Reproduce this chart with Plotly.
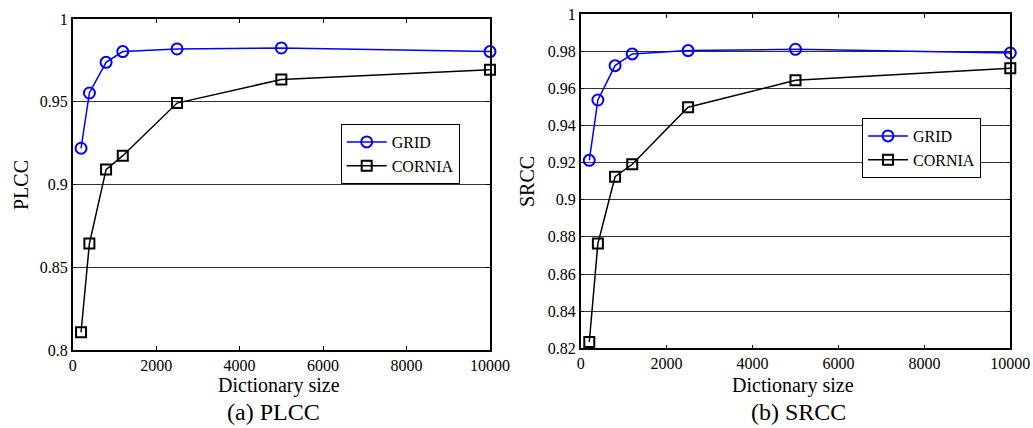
import plotly.graph_objects as go

dict_size = [200, 400, 800, 1200, 2500, 5000, 10000]
plcc_grid = [0.9219, 0.9553, 0.9738, 0.9803, 0.9819, 0.9825, 0.9803]
plcc_cornia = [0.8107, 0.8643, 0.9090, 0.9174, 0.9492, 0.9635, 0.9694]
srcc_grid = [0.9212, 0.9537, 0.9722, 0.9785, 0.9803, 0.9810, 0.9790]
srcc_cornia = [0.8234, 0.8764, 0.9124, 0.9191, 0.9498, 0.9643, 0.9708]

x_ticks = [0, 2000, 4000, 6000, 8000, 10000]
x_ticktext = ["0", "2000", "4000", "6000", "8000", "10000"]
plcc_ticks = [0.8, 0.85, 0.9, 0.95, 1.0]
plcc_ticktext = ["0.8", "0.85", "0.9", "0.95", "1"]
srcc_ticks = [0.82, 0.84, 0.86, 0.88, 0.9, 0.92, 0.94, 0.96, 0.98, 1.0]
srcc_ticktext = ["0.82", "0.84", "0.86", "0.88", "0.9", "0.92", "0.94", "0.96", "0.98", "1"]

W, H = 1033, 428
FONT = "Liberation Serif"
BLUE = "#0000ff"

fig = go.Figure()

def add_series(x, y, name, color, symbol, xa, ya, legend):
    fig.add_trace(go.Scatter(
        x=x, y=y, name=name, mode="lines+markers",
        line=dict(color=color, width=1.5),
        marker=dict(symbol=symbol, size=11 if symbol == "circle-open" else 10,
                    color=color, line=dict(color=color, width=2)),
        xaxis=xa, yaxis=ya, legend=legend, cliponaxis=False,
    ))

add_series(dict_size, plcc_grid, "GRID", BLUE, "circle-open", "x", "y", "legend")
add_series(dict_size, plcc_cornia, "CORNIA", "black", "square-open", "x", "y", "legend")
add_series(dict_size, srcc_grid, "GRID", BLUE, "circle-open", "x2", "y2", "legend2")
add_series(dict_size, srcc_cornia, "CORNIA", "black", "square-open", "x2", "y2", "legend2")

def px_x(p):
    return p / W

def px_y(p):
    return 1 - p / H

xaxis_common = dict(
    range=[0, 10000], tickvals=x_ticks, ticktext=x_ticktext, automargin=False,
    showgrid=False, zeroline=False, showline=True, linecolor="black", linewidth=1.5,
    mirror="ticks", ticks="inside", ticklen=4, tickcolor="black", tickwidth=1,
    tickfont=dict(family=FONT, size=16, color="black"),
)
yaxis_common = dict(
    showgrid=True, gridcolor="#333333", gridwidth=1, zeroline=False, automargin=False,
    showline=True, linecolor="black", linewidth=1.5,
    mirror="ticks", ticks="inside", ticklen=4, tickcolor="black", tickwidth=1,
    tickfont=dict(family=FONT, size=16, color="black"),
)

legend_common = dict(
    bgcolor="white", bordercolor="black", borderwidth=1,
    font=dict(family=FONT, size=16, color="black"),
    xanchor="left", yanchor="top", itemwidth=40, tracegroupgap=0,
)

fig.update_layout(
    width=W, height=H,
    margin=dict(l=0, r=0, t=0, b=0, autoexpand=False),
    font=dict(family=FONT, color="black"),
    paper_bgcolor="white", plot_bgcolor="white",
    xaxis=dict(domain=[px_x(72.7), px_x(490)], anchor="y", **xaxis_common),
    yaxis=dict(domain=[px_y(350), px_y(19)], anchor="x", range=[0.8, 1.0],
               tickvals=plcc_ticks, ticktext=plcc_ticktext, **yaxis_common),
    xaxis2=dict(domain=[px_x(580.7), px_x(1010.3)], anchor="y2", **xaxis_common),
    yaxis2=dict(domain=[px_y(348.3), px_y(14)], anchor="x2", range=[0.82, 1.0],
                tickvals=srcc_ticks, ticktext=srcc_ticktext, **yaxis_common),
    legend=dict(x=px_x(340.7), y=px_y(124), **legend_common),
    legend2=dict(x=px_x(862), y=px_y(118), **legend_common),
    showlegend=True,
)

def text_ann(x, y, text, size, angle=0):
    fig.add_annotation(
        x=px_x(x), y=px_y(y), xref="paper", yref="paper", text=text,
        showarrow=False, xanchor="center", yanchor="middle", textangle=angle,
        font=dict(family=FONT, size=size, color="black"),
    )

text_ann(279, 385, "Dictionary size", 20)
text_ann(273, 412, "(a) PLCC", 24)
text_ann(21, 185, "PLCC", 20, -90)
text_ann(793, 385, "Dictionary size", 20)
text_ann(798, 412, "(b) SRCC", 24)
text_ann(527, 182, "SRCC", 20, -90)

fig.write_html(
    "out.html",
    config={"displayModeBar": False},
    post_script="document.body.style.margin='0';document.body.style.overflow='hidden';"
                "document.documentElement.style.overflow='hidden';",
)
